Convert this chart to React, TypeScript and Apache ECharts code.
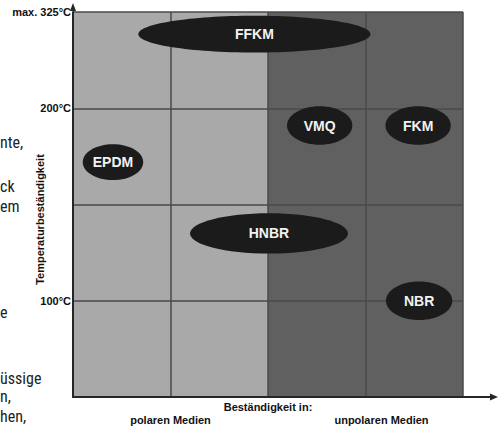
import React, { useEffect, useRef } from "react";
import * as echarts from "echarts";

// --- data ---
const materials = ["FFKM", "VMQ", "FKM", "EPDM", "HNBR", "NBR"];
const centerX = [1.86, 2.53, 3.54, 0.41, 2.01, 3.55];
const centerY = [3.77, 2.82, 2.82, 2.44, 1.7, 1.0];
const spanX = [2.38, 0.67, 0.67, 0.62, 1.62, 0.68];
const spanY = [0.38, 0.4, 0.4, 0.37, 0.42, 0.4];

const zoneStart = [0, 2];
const zoneEnd = [2, 4];

const yTickValues = [1, 3, 4];
const yTickTexts = ["100°C", "200°C", "max. 325°C"];
const xLabelValues = [1, 3];
const xLabelTexts = ["polaren Medien", "unpolaren Medien"];
const yAxisTitle = "Temperaturbeständigkeit";
const xAxisTitle = "Beständigkeit in:";

const sideTexts = ["nte,", "ck", "em", "e", "üssige", "n,", "hen,"];
const sideTextY = [142, 186, 206, 312, 378, 396, 416];

const X_MIN = 0, X_MAX = 4, Y_MIN = 0, Y_MAX = 4;

// --- styles ---
const zoneColors = ["#a9a9a9", "#606060"];
const lineColor = "#4a4a4a";
const axisColor = "#262626";
const textColor = "#111";
const boldFont = "Liberation Sans, Arial, sans-serif";
const narrowFont = "'Liberation Sans Narrow', 'Arial Narrow', 'Roboto Condensed', sans-serif";

export default function App() {
  const ref = useRef<HTMLDivElement>(null);
  useEffect(() => {
    if (!ref.current) return;
    const chart = echarts.init(ref.current, null, { renderer: "svg" });
    const option: any = {
      animation: false,
      grid: { left: 73, right: 40, top: 12, bottom: 32, containLabel: false, outerBoundsMode: "none" },
      xAxis: {
        type: "value",
        min: X_MIN,
        max: X_MAX,
        interval: 1,
        z: 5,
        axisLine: { show: true, onZero: false, lineStyle: { color: axisColor, width: 2 } },
        axisTick: { show: false },
        splitLine: { show: true, lineStyle: { color: lineColor, width: 1.5 } },
        axisLabel: {
          margin: 17,
          formatter: (v: number) => {
            const i = xLabelValues.indexOf(v);
            if (i < 0) return "";
            return `{${i === 1 ? "u" : "p"}|${xLabelTexts[i]}}`;
          },
          rich: {
            p: { fontFamily: boldFont, fontWeight: "bold", fontSize: 11, color: textColor },
            u: { fontFamily: boldFont, fontWeight: "bold", fontSize: 11, color: textColor, padding: [0, 0, 0, 32] },
          },
        },
        name: xAxisTitle,
        nameLocation: "middle",
        nameGap: 4,
        nameMoveOverlap: false,
        nameTextStyle: { fontFamily: boldFont, fontWeight: "bold", fontSize: 11, color: textColor },
      },
      yAxis: {
        type: "value",
        min: Y_MIN,
        max: Y_MAX,
        interval: 1,
        z: 5,
        axisLine: { show: true, onZero: false, lineStyle: { color: axisColor, width: 2 } },
        axisTick: { show: false },
        splitLine: { show: true, lineStyle: { color: lineColor, width: 1.5 } },
        axisLabel: {
          margin: 2,
          fontFamily: boldFont,
          fontWeight: "bold",
          fontSize: 11,
          color: textColor,
          formatter: (v: number) => {
            const i = yTickValues.indexOf(v);
            return i < 0 ? "" : yTickTexts[i];
          },
        },
      },
      series: [
        {
          type: "custom",
          z: 1,
          silent: true,
          encode: { x: [0, 1], y: [2, 3] },
          data: zoneStart.map((s, i) => [s, zoneEnd[i], Y_MIN, Y_MAX]),
          renderItem: (params: any, api: any) => {
            const a = api.coord([api.value(0), api.value(3)]);
            const b = api.coord([api.value(1), api.value(2)]);
            return {
              type: "rect",
              shape: { x: a[0], y: a[1], width: b[0] - a[0], height: b[1] - a[1] },
              style: { fill: zoneColors[params.dataIndex] },
            };
          },
        },
        {
          type: "custom",
          z: 10,
          silent: true,
          encode: { x: 0, y: 1 },
          data: materials.map((_, i) => [centerX[i], centerY[i], spanX[i], spanY[i]]),
          renderItem: (params: any, api: any) => {
            const c = api.coord([api.value(0), api.value(1)]);
            const s = api.size([api.value(2), api.value(3)]);
            return {
              type: "group",
              children: [
                {
                  type: "ellipse",
                  shape: { cx: c[0], cy: c[1], rx: s[0] / 2, ry: s[1] / 2 },
                  style: { fill: "#1b1b1b" },
                },
                {
                  type: "text",
                  x: c[0],
                  y: c[1],
                  style: {
                    text: materials[params.dataIndex],
                    fill: "#f2f2f2",
                    font: `bold 14px ${boldFont}`,
                    align: "center",
                    verticalAlign: "middle",
                  },
                },
              ],
            };
          },
        },
      ],
    };
    chart.setOption(option);
    const p = chart.convertToPixel({ gridIndex: 0 }, [X_MAX, Y_MIN]) as number[];
    const q = chart.convertToPixel({ gridIndex: 0 }, [X_MIN, Y_MAX]) as number[];
    const midY = (p[1] + q[1]) / 2;
    chart.setOption({
      graphic: [
        {
          type: "line",
          shape: { x1: p[0], y1: p[1], x2: p[0] + 29, y2: p[1] },
          style: { stroke: axisColor, lineWidth: 2 },
          z: 20,
        },
        {
          type: "polygon",
          shape: { points: [[p[0] + 35, p[1]], [p[0] + 27, p[1] - 3.5], [p[0] + 27, p[1] + 3.5]] },
          style: { fill: axisColor },
          z: 20,
        },
        {
          type: "polygon",
          shape: { points: [[q[0], q[1] - 9], [q[0] - 3, q[1] - 1], [q[0] + 3, q[1] - 1]] },
          style: { fill: axisColor },
          z: 20,
        },
        {
          type: "text",
          x: q[0] - 33,
          y: midY + 15,
          rotation: Math.PI / 2,
          style: {
            text: yAxisTitle,
            fill: textColor,
            font: `bold 11px ${boldFont}`,
            align: "center",
            verticalAlign: "middle",
          },
        },
        ...sideTexts.map((t, i) => ({
          type: "text",
          x: 0,
          y: sideTextY[i],
          style: {
            text: t,
            fill: "#222",
            font: `16px ${narrowFont}`,
            align: "left",
            verticalAlign: "middle",
          },
        })),
      ],
    });
    return () => chart.dispose();
  }, []);
  return (
    <div
      ref={ref}
      style={{ position: "fixed", left: 0, top: 0, width: 503, height: 429, background: "#fff" }}
    />
  );
}
